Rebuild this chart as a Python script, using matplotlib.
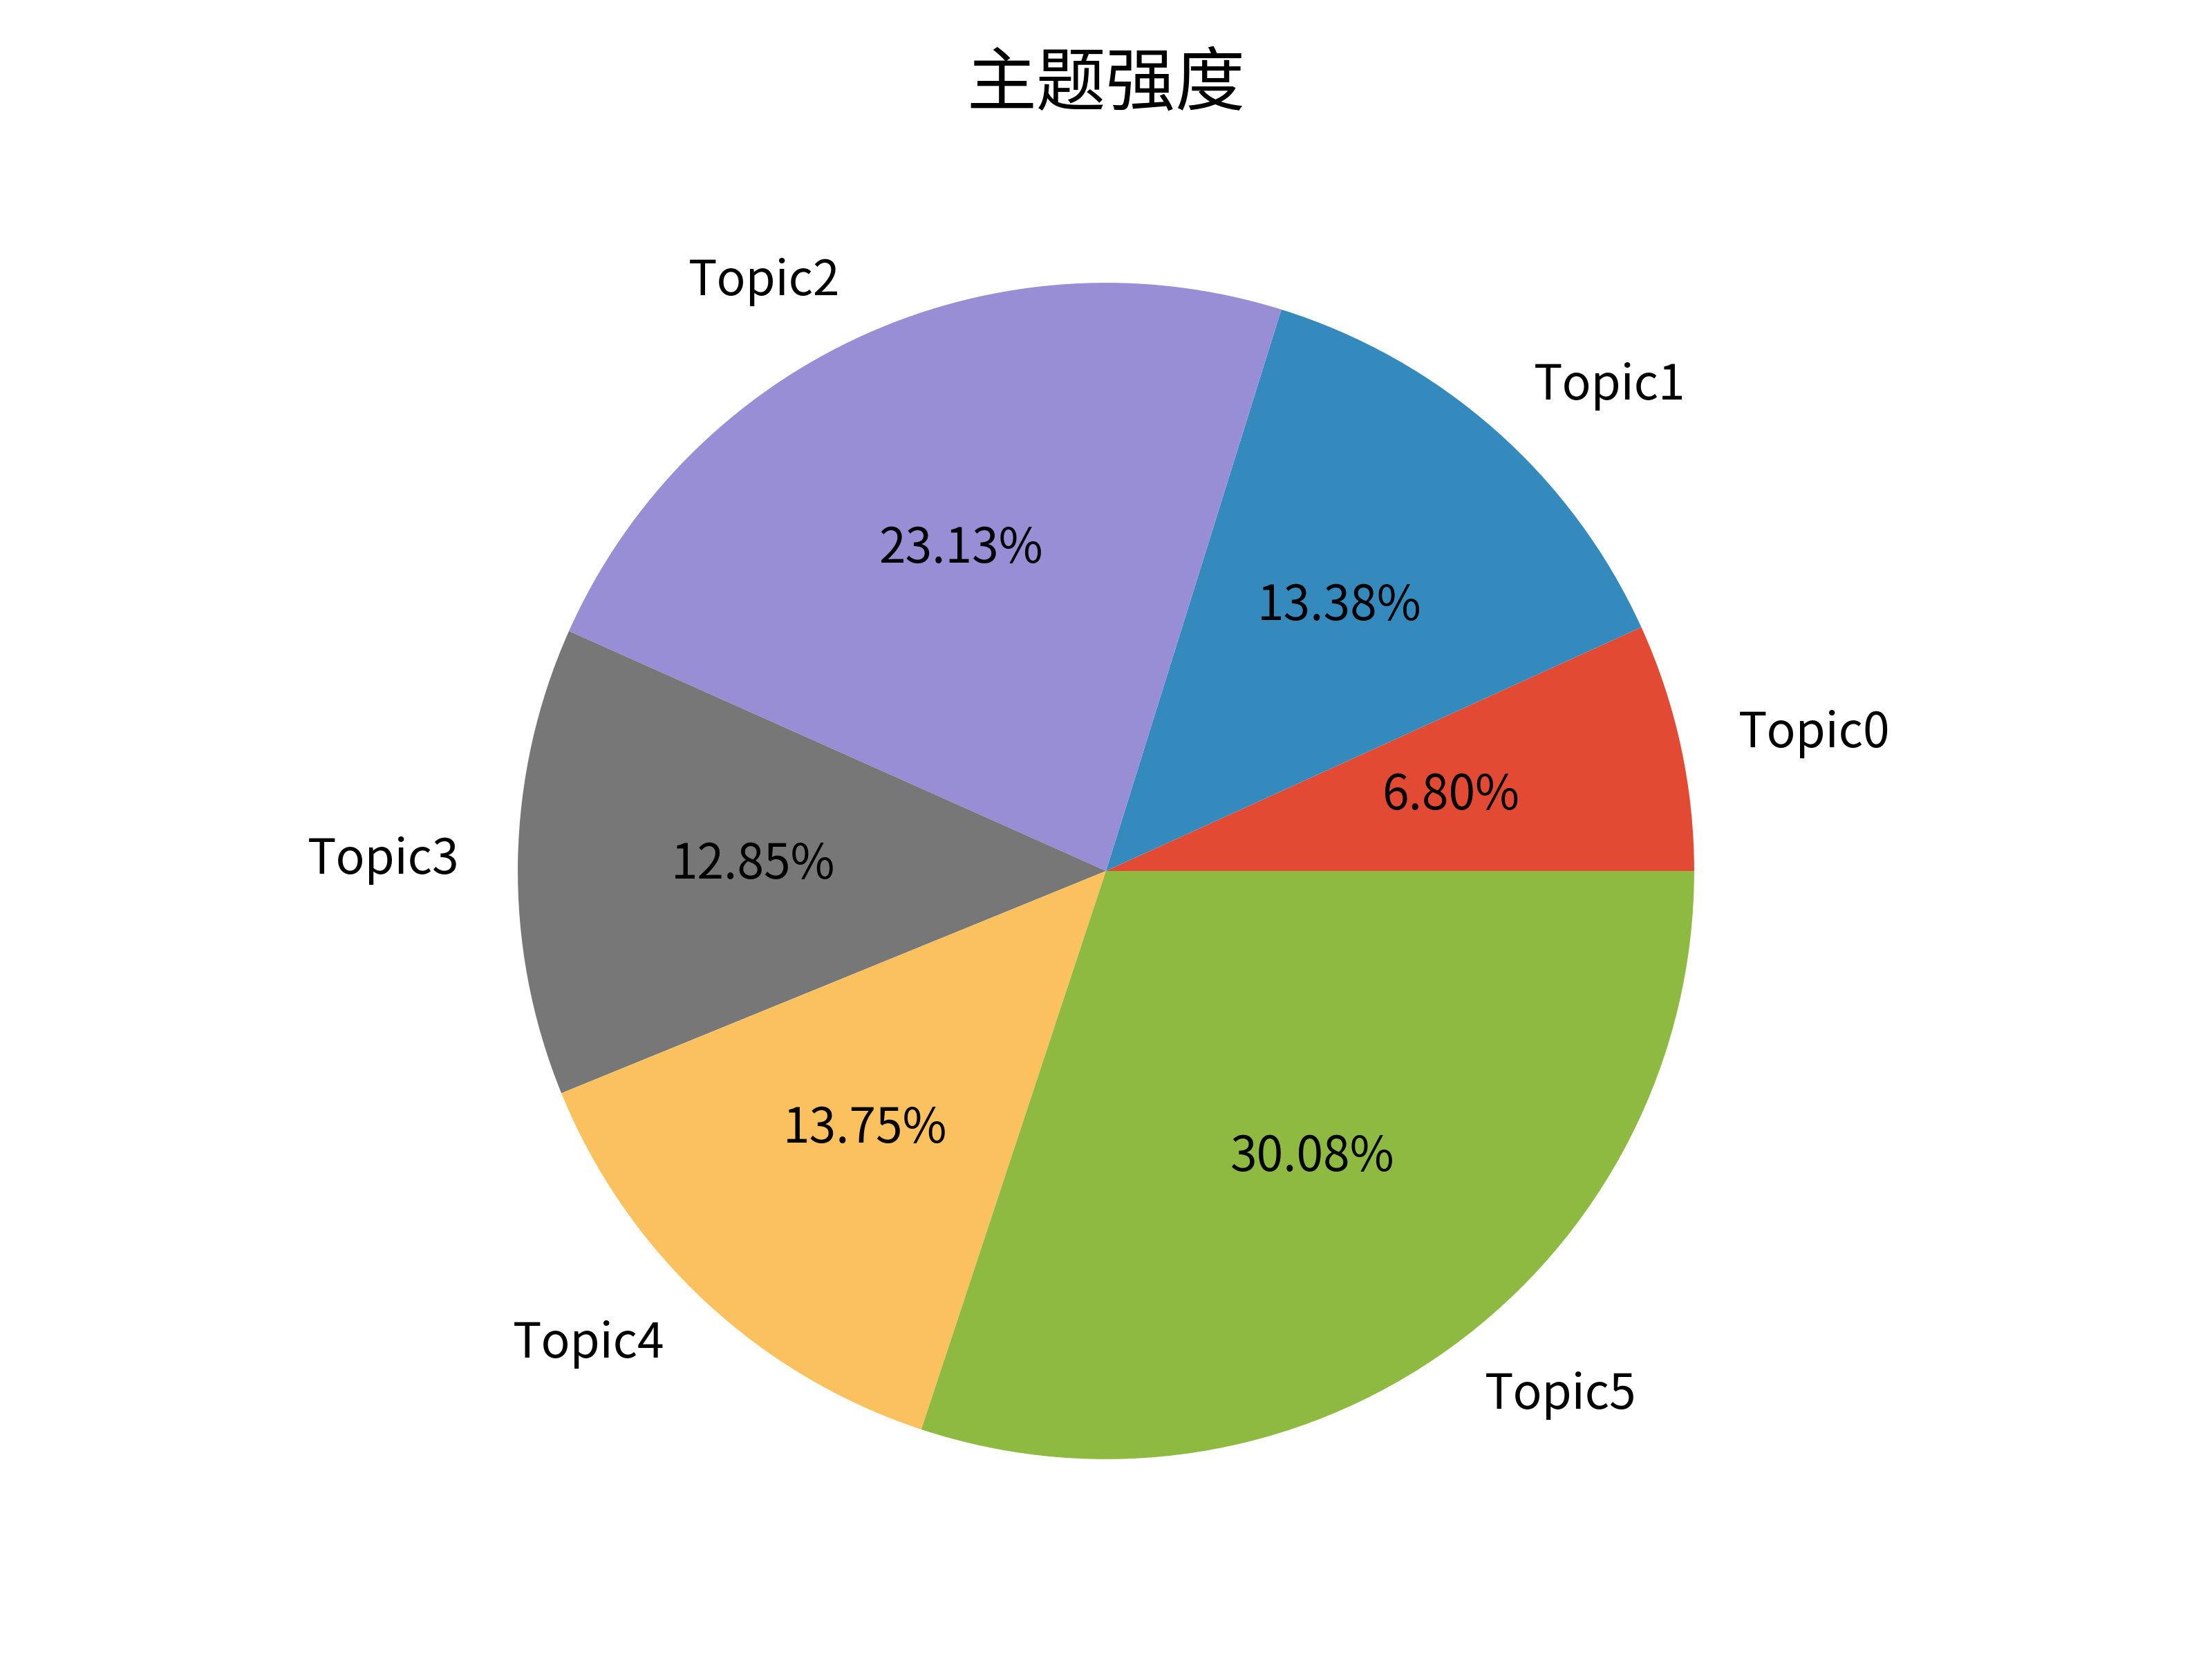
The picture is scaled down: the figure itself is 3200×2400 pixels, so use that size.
import matplotlib
matplotlib.use('Agg')
import matplotlib.pyplot as plt

plt.style.use('ggplot')
plt.rcParams['font.family'] = ['Noto Sans CJK SC', 'DejaVu Sans']

topics = ['Topic0', 'Topic1', 'Topic2', 'Topic3', 'Topic4', 'Topic5']
strength = [6.80, 13.38, 23.13, 12.85, 13.75, 30.08]

fig = plt.figure(figsize=(6.4, 4.8), dpi=500)
plt.subplots_adjust(left=0.125, right=0.875, bottom=0.085, top=0.865)
plt.pie(strength, labels=topics, autopct='%.2f%%')
plt.axis('equal')
fig.suptitle('主题强度', fontsize=14.5, y=0.949, va='center')
plt.savefig('out.png', dpi=500)
plt.close()
